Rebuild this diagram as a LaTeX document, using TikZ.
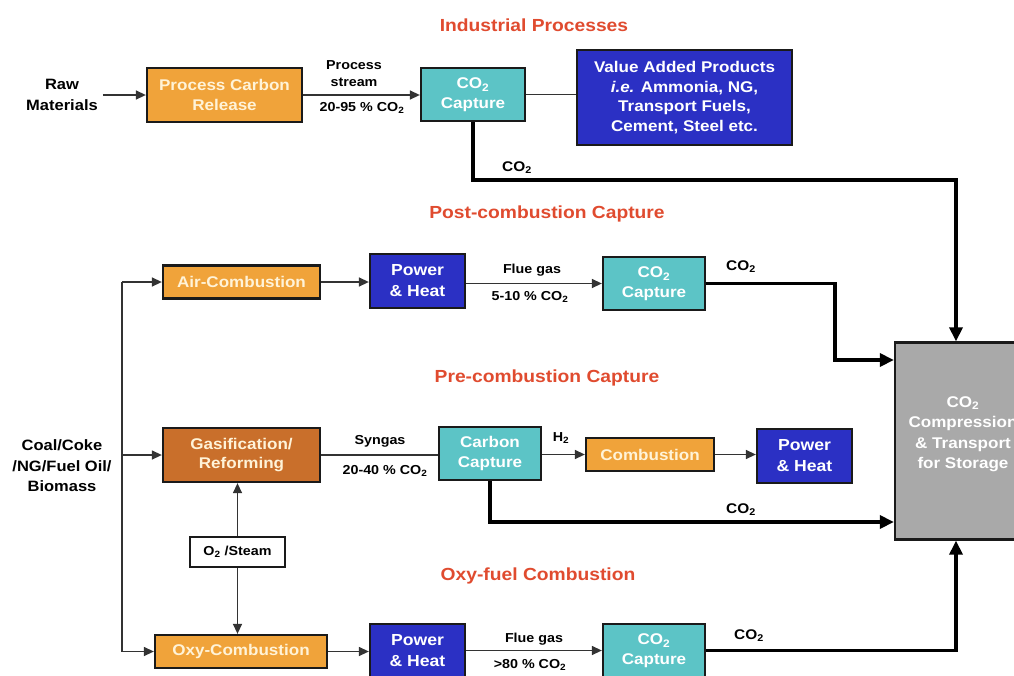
\documentclass[tikz,border=0pt]{standalone}
\usepackage{fontspec}
\setmainfont{Liberation Sans}[FakeStretch=1.1]
\usetikzlibrary{arrows.meta}

\definecolor{procorange}{HTML}{F0A33A}
\definecolor{gasorange}{HTML}{C96F2B}
\definecolor{capteal}{HTML}{5CC4C6}
\definecolor{powerblue}{HTML}{2B30C4}
\definecolor{storegrey}{HTML}{A9A9A9}
\definecolor{titlered}{HTML}{E04B2F}
\definecolor{boxline}{HTML}{1A1A1A}
\definecolor{cream}{HTML}{FFF3D8}
\definecolor{thinline}{HTML}{333333}

\newcommand{\cotwo}{CO\textsubscript{2}}

\tikzset{
  unit/.style={draw=boxline, line width=2.3pt, align=center, inner sep=0pt,
    font=\fontsize{15.5}{19.5}\selectfont\bfseries},
  orangebox/.style={unit, fill=procorange, text=cream},
  gasbox/.style={unit, fill=gasorange, text=cream},
  capbox/.style={unit, fill=capteal, text=white},
  powerbox/.style={unit, fill=powerblue, text=white,
    font=\fontsize{16}{21}\selectfont\bfseries},
  feedtext/.style={align=center, inner sep=5pt,
    font=\fontsize{15}{20.5}\selectfont\bfseries},
  streamlabel/.style={align=center, inner sep=0pt,
    font=\fontsize{13}{17}\selectfont\bfseries},
  colabel/.style={inner sep=0pt, font=\fontsize{14}{17}\selectfont\bfseries},
  routetitle/.style={text=titlered, inner sep=0pt,
    font=\fontsize{17.5}{20}\selectfont\bfseries},
  flow/.style={draw=thinline, line width=1.4pt, -{Triangle[length=10pt,width=9pt]}},
  link/.style={draw=thinline, line width=1.4pt},
  co2flow/.style={line width=3.4pt, -{Triangle[length=14pt,width=13pt]}}
}

\begin{document}
\begin{tikzpicture}[x=1pt,y=-1pt]
  \useasboundingbox (0,0) rectangle (1014,675);
  \clip (0,0) rectangle (1014,675);
  \fill[white] (0,0) rectangle (1014,675);

  % industrial processes
  \node[routetitle] (indtitle) at (534,25) {Industrial Processes};
  \node[feedtext] (rawmat) at (62,95) {Raw\\Materials};
  \node[orangebox, minimum width=155pt, minimum height=54pt] (pcr) at (224.5,95) {Process Carbon\\Release};
  \node[capbox, minimum width=104pt, minimum height=53pt] (capind) at (473,94.5) {\cotwo\\Capture};
  \node[unit, fill=powerblue, text=white, minimum width=215pt, minimum height=95pt] (vap) at (684.5,97.5)
    {Value Added Products\\\textit{i.e.} Ammonia, NG,\\Transport Fuels,\\Cement, Steel etc.};
  \node[streamlabel] (pstream) at (354,73.5) {Process\\stream};
  \node[streamlabel] (pconc) at (362,108) {20-95 \% \cotwo};
  \node[colabel] (coind) at (517,168) {\cotwo};

  % post-combustion capture
  \node[routetitle] (posttitle) at (547,214) {Post-combustion Capture};
  \node[orangebox, minimum width=157pt, minimum height=33pt] (air) at (241.5,282) {Air-Combustion};
  \node[powerbox, minimum width=95pt, minimum height=54pt] (phpost) at (417.5,281) {Power\\\& Heat};
  \node[capbox, minimum width=102pt, minimum height=53pt] (cappost) at (654,283.5) {\cotwo\\Capture};
  \node[streamlabel] (fluepost) at (532,270) {Flue gas};
  \node[streamlabel] (concpost) at (530,297) {5-10 \% \cotwo};
  \node[colabel] (copost) at (741,267) {\cotwo};

  % storage
  \node[unit, fill=storegrey, minimum width=136pt, minimum height=197pt] (store) at (963,441) {};
  \node[inner sep=0pt, align=center, text=white, font=\fontsize{15.5}{20.5}\selectfont\bfseries]
    (storetext) at (963,434) {\cotwo\\Compression\\\& Transport\\for Storage};

  % pre-combustion capture
  \node[routetitle] (pretitle) at (547,378) {Pre-combustion Capture};
  \node[feedtext] (fuel) at (62,466) {Coal/Coke\\/NG/Fuel Oil/\\Biomass};
  \node[gasbox, minimum width=157pt, minimum height=54pt] (gas) at (241.5,455) {Gasification/\\Reforming};
  \node[capbox, minimum width=102pt, minimum height=53pt] (cappre) at (490,453.5) {Carbon\\Capture};
  \node[orangebox, minimum width=128pt, minimum height=33pt] (comb) at (650,454.5) {Combustion};
  \node[powerbox, minimum width=95pt, minimum height=54pt] (phpre) at (804.5,456) {Power\\\& Heat};
  \node[streamlabel] (syngas) at (380,441) {Syngas};
  \node[streamlabel] (concpre) at (385,471) {20-40 \% \cotwo};
  \node[streamlabel] (htwo) at (561,438) {H\textsubscript{2}};
  \node[colabel] (copre) at (741,510) {\cotwo};
  \node[unit, fill=white, text=black, line width=1.6pt, minimum width=95pt, minimum height=30pt,
    font=\fontsize{13}{16}\selectfont\bfseries] (steam) at (237.5,552) {O\textsubscript{2} /Steam};

  % oxy-fuel combustion
  \node[routetitle] (oxytitle) at (538,576) {Oxy-fuel Combustion};
  \node[orangebox, minimum width=172pt, minimum height=33pt] (oxy) at (241,651.5) {Oxy-Combustion};
  \node[powerbox, minimum width=95pt, minimum height=54pt] (phoxy) at (417.5,651) {Power\\\& Heat};
  \node[capbox, minimum width=102pt, minimum height=53pt] (capoxy) at (654,650.5) {\cotwo\\Capture};
  \node[streamlabel] (flueoxy) at (534,639) {Flue gas};
  \node[streamlabel] (concoxy) at (530,665) {>80 \% \cotwo};
  \node[colabel] (cooxy) at (749,636) {\cotwo};

  % thin flows
  \draw[flow] (rawmat.east) -- (pcr.west);
  \draw[flow] (pcr.east) -- (pcr.east -| capind.west);
  \draw[link] (capind.east) -- (capind.east -| vap.west);
  \coordinate (trunktop) at (122,282);
  \coordinate (trunkbot) at (122,651.5);
  \draw[link] (trunktop) -- (trunkbot);
  \draw[flow] (trunktop) -- (air.west);
  \draw[flow] (trunktop |- gas.west) -- (gas.west);
  \draw[flow] (trunkbot) -- (oxy.west);
  \draw[flow] (air.east) -- (air.east -| phpost.west);
  \draw[flow] (phpost.east |- cappost.west) -- (cappost.west);
  \draw[link] (gas.east) -- (gas.east -| cappre.west);
  \draw[flow] (cappre.east |- comb.west) -- (comb.west);
  \draw[flow] (comb.east) -- (comb.east -| phpre.west);
  \draw[flow] (steam.north) -- (steam.north |- gas.south);
  \draw[flow] (steam.south) -- (steam.south |- oxy.north);
  \draw[flow] (oxy.east) -- (oxy.east -| phoxy.west);
  \draw[flow] (phoxy.east |- capoxy.west) -- (capoxy.west);

  % captured CO2 to storage
  \coordinate (topbend) at (956,180);
  \coordinate (postbend) at (835,360);
  \draw[co2flow] (capind.south) |- (topbend) -- (topbend |- store.north);
  \draw[co2flow] (cappost.east) -| (postbend) -- (postbend -| store.west);
  \draw[co2flow] (cappre.south) |- ([yshift=-81pt]store.west);
  \draw[co2flow] (capoxy.east) -| ([xshift=-7pt]store.south);
\end{tikzpicture}
\end{document}
